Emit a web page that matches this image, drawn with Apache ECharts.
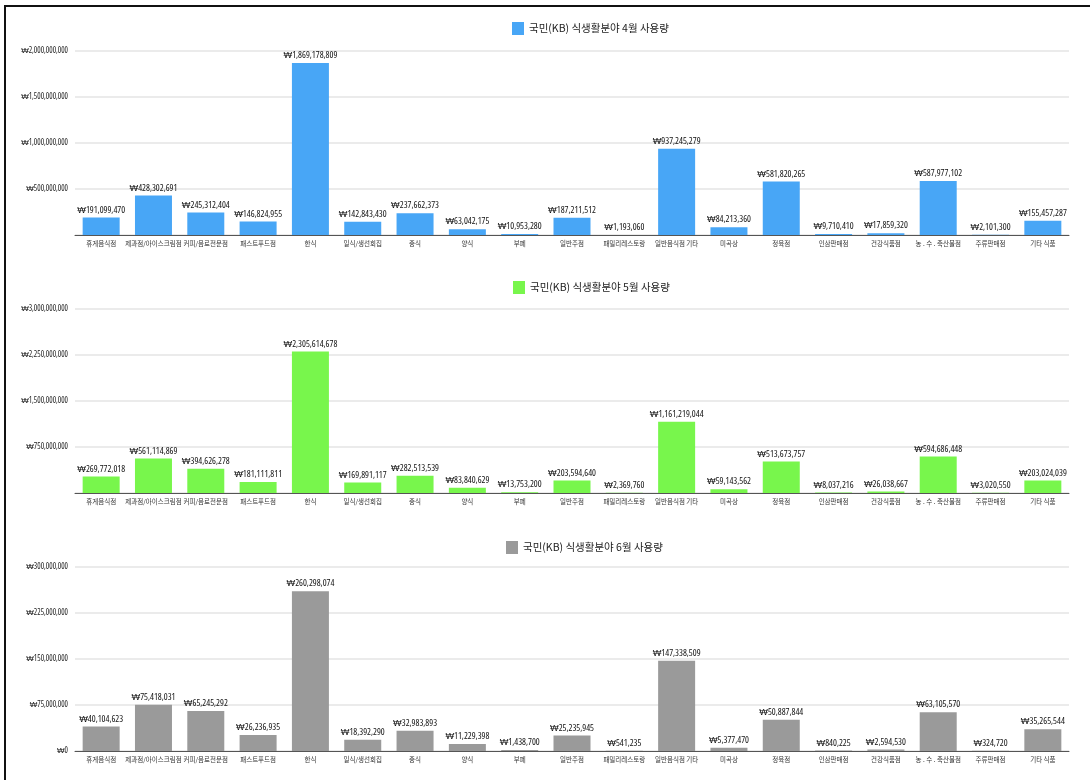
<!DOCTYPE html>
<html><head><meta charset="utf-8">
<script src="https://cdn.jsdelivr.net/npm/echarts@6/dist/echarts.min.js"></script>
<style>
html,body{margin:0;padding:0;background:#fff;}
#frame{position:absolute;left:4px;top:5px;width:1086px;height:775px;border-left:2px solid #111;border-top:2px solid #111;}
#chart{position:absolute;left:0;top:0;width:1090px;height:780px;}
</style></head>
<body>
<div id="frame"></div>
<div id="chart"></div>
<script>
const categories = ['휴게음식점','제과점/아이스크림점','커피/음료전문점','패스트푸드점','한식','일식/생선회집','중식','양식','부페','일반주점','패밀리레스토랑','일반음식점 기타','미곡상','정육점','인삼판매점','건강식품점','농 . 수 . 축산물점','주류판매점','기타 식품'];
const seriesNames = ['국민(KB) 식생활분야 4월 사용량','국민(KB) 식생활분야 5월 사용량','국민(KB) 식생활분야 6월 사용량'];
const aprValues = [191099470, 428302691, 245312404, 146824955, 1869178809, 142843430, 237662373, 63042175, 10953280, 187211512, 1193060, 937245279, 84213360, 581820265, 9710410, 17859320, 587977102, 2101300, 155457287];
const mayValues = [269772018, 561114869, 394626278, 181111811, 2305614678, 169891117, 282513539, 83840629, 13753200, 203594640, 2369760, 1161219044, 59143562, 513673757, 8037216, 26038667, 594686448, 3020550, 203024039];
const junValues = [40104623, 75418031, 65245292, 26236935, 260298074, 18392290, 32983893, 11229398, 1438700, 25235945, 541235, 147338509, 5377470, 50887844, 840225, 2594530, 63105570, 324720, 35265544];
const yMax = [2000000000, 3000000000, 300000000];
const yInterval = [500000000, 750000000, 75000000];

const colors = ['#48a6f6', '#78f64c', '#9a9a9a'];
const allValues = [aprValues, mayValues, junValues];
const gridTops = [51, 309, 567];
const gridH = 184;
const legendPos = [[512, 22], [513, 281], [506, 541]];
const won = v => '₩' + Number(v).toLocaleString('en-US');
const numFont = '"Open Sans", "Liberation Sans", sans-serif';
const krFont = '"Noto Sans CJK KR", sans-serif';

const chart = echarts.init(document.getElementById('chart'));
const option = {
  animation: false,
  backgroundColor: 'transparent',
  legend: [0,1,2].map(i => ({
    data: [seriesNames[i]],
    left: legendPos[i][0], top: legendPos[i][1], padding: 0,
    itemWidth: 12, itemHeight: 13, itemGap: 6,
    icon: 'rect',
    textStyle: { fontFamily: krFont, fontSize: 10.5, color: '#222' }
  })),
  grid: [0,1,2].map(i => ({ left: 75, right: 21, top: gridTops[i], height: gridH, containLabel: false })),
  xAxis: [0,1,2].map(i => ({
    type: 'category', gridIndex: i, data: categories,
    axisTick: { show: false },
    axisLine: { lineStyle: { color: '#555', width: 1 } },
    axisLabel: { interval: 0, fontFamily: krFont, fontSize: 6.5, color: '#333', margin: 5 }
  })),
  yAxis: [0,1,2].map(i => ({
    type: 'value', gridIndex: i, min: 0, max: yMax[i], interval: yInterval[i],
    axisLine: { show: false }, axisTick: { show: false },
    splitLine: { lineStyle: { color: '#e4e4e4', width: 1.5 } },
    axisLabel: { showMinLabel: i === 2, formatter: won, fontFamily: numFont, fontStyle: 'condensed', fontSize: 8, color: '#222', margin: 7 }
  })),
  series: [0,1,2].map(i => ({
    name: seriesNames[i], type: 'bar', xAxisIndex: i, yAxisIndex: i,
    data: allValues[i], barWidth: 37,
    itemStyle: { color: colors[i] },
    label: { show: true, position: 'top', distance: 3, formatter: p => won(p.value),
      fontFamily: numFont, fontStyle: 'condensed', fontSize: 9.2, color: '#111' }
  }))
};
chart.setOption(option);
</script>
</body></html>
